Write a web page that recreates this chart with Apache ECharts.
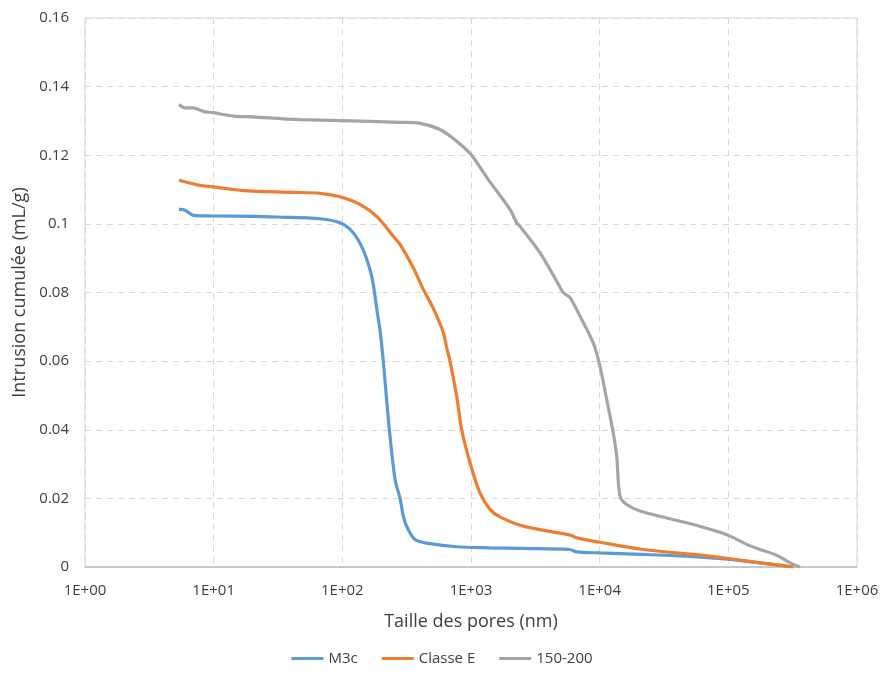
<!DOCTYPE html>
<html>
<head>
<meta charset="utf-8">
<script src="https://cdn.jsdelivr.net/npm/echarts@6/dist/echarts.min.js"></script>
<style>html,body{margin:0;padding:0;background:#fff;}#c{width:884px;height:680px;}</style>
</head>
<body>
<div id="c"></div>
<script>
var seriesNames = ['M3c', 'Classe E', '150-200'];
var xTickLabels = ['1E+00', '1E+01', '1E+02', '1E+03', '1E+04', '1E+05', '1E+06'];
var yTickLabels = ['0', '0.02', '0.04', '0.06', '0.08', '0.1', '0.12', '0.14', '0.16'];

var m3cX = [5.38, 5.99, 6.95, 9.93, 20.3, 31, 67, 95.9, 121, 145, 164, 173, 189, 196, 208, 232, 257, 281, 298, 316, 367, 480, 774, 1405, 2500, 5878, 6628, 10060, 20570, 29410, 53460, 103100, 176300, 320000];
var m3cY = [0.1042, 0.1040, 0.1025, 0.1023, 0.1022, 0.1020, 0.1015, 0.1003, 0.0975, 0.0925, 0.0867, 0.0829, 0.0730, 0.0692, 0.0600, 0.0400, 0.0255, 0.0200, 0.0148, 0.0119, 0.0080, 0.0068, 0.0059, 0.0056, 0.0054, 0.0051, 0.0044, 0.0041, 0.0037, 0.0035, 0.0030, 0.0022, 0.0012, 0.0];

var classeX = [5.38, 7.83, 9.93, 17.0, 41.6, 67, 95.9, 137, 185, 249, 281, 356, 426, 507, 610, 647, 687, 774, 847, 982, 1174, 1405, 1680, 2548, 5542, 6058, 6628, 10060, 21840, 63880, 103100, 176300, 320000];
var classeY = [0.1127, 0.1112, 0.1108, 0.1097, 0.1092, 0.1089, 0.1079, 0.1057, 0.1022, 0.0964, 0.0940, 0.0872, 0.0809, 0.0755, 0.0683, 0.0639, 0.0600, 0.0498, 0.0400, 0.0304, 0.0216, 0.0168, 0.0146, 0.0119, 0.0095, 0.0092, 0.0085, 0.0072, 0.0051, 0.0034, 0.0024, 0.0012, 0.0];

var grayX = [5.38, 5.99, 6.95, 8.30, 9.93, 14.2, 20.3, 34.8, 46.9, 95.9, 281, 402, 574, 774, 1000, 1363, 2010, 2265, 2403, 3436, 4634, 5214, 5878, 7032, 8918, 10060, 11340, 12770, 13560, 14390, 16230, 20570, 33190, 53460, 81220, 103100, 138900, 176300, 237600, 301300, 360600];
var grayY = [0.1348, 0.1338, 0.1338, 0.1328, 0.1324, 0.1314, 0.1312, 0.1306, 0.1304, 0.1301, 0.1296, 0.1293, 0.1275, 0.1241, 0.1202, 0.1129, 0.1042, 0.1003, 0.0993, 0.0916, 0.0833, 0.0800, 0.0785, 0.0731, 0.0653, 0.0585, 0.0488, 0.0390, 0.0323, 0.0206, 0.0182, 0.0163, 0.0143, 0.0124, 0.0104, 0.0090, 0.0066, 0.0051, 0.0034, 0.0012, 0.0];

function zip(xs, ys) { return xs.map(function (x, i) { return [x, ys[i]]; }); }

var colors = ['#5B9BD5', '#ED7D31', '#A5A5A5'];
var FONT = 'Open Sans';
var chart = echarts.init(document.getElementById('c'), null, { renderer: 'canvas' });

function mkSeries(name, data, color) {
  return {
    name: name, type: 'line', data: data, showSymbol: false, symbol: 'none',
    smooth: 0.3,
    lineStyle: { color: color, width: 3.2 }, itemStyle: { color: color }
  };
}

chart.setOption({
  animation: false,
  backgroundColor: '#fff',
  textStyle: { fontFamily: FONT },
  color: colors,
  grid: { left: 85, right: 27, top: 18, bottom: 113, show: true, borderColor: '#d9d9d9', borderWidth: 1 },
  legend: {
    bottom: 9, left: 'center', itemWidth: 32, itemHeight: 3, itemGap: 24,
    icon: 'rect',
    textStyle: { fontFamily: FONT, fontSize: 15, color: '#404040' },
    data: seriesNames
  },
  xAxis: {
    type: 'log', logBase: 10, min: 1, max: 1000000,
    name: 'Taille des pores (nm)', nameLocation: 'middle', nameGap: 46,
    nameTextStyle: { fontFamily: FONT, fontSize: 18, color: '#404040' },
    axisLine: { lineStyle: { color: '#bfbfbf', width: 1.5 } },
    axisTick: { show: false },
    minorTick: { show: false },
    axisLabel: {
      fontFamily: FONT, fontSize: 15, color: '#404040', margin: 16,
      formatter: function (v) { var e = Math.round(Math.log10(v)); return xTickLabels[e] || ''; }
    },
    splitLine: { show: true, lineStyle: { color: '#d9d9d9', type: [6, 5], width: 1 } }
  },
  yAxis: {
    type: 'value', min: 0, max: 0.16, interval: 0.02,
    name: 'Intrusion cumulée (mL/g)', nameLocation: 'middle', nameGap: 56,
    nameTextStyle: { fontFamily: FONT, fontSize: 18, color: '#404040' },
    axisLine: { show: false }, axisTick: { show: false },
    axisLabel: {
      fontFamily: FONT, fontSize: 15, color: '#404040', margin: 16,
      formatter: function (v) { var i = Math.round(v / 0.02); return yTickLabels[i]; }
    },
    splitLine: { show: true, lineStyle: { color: '#d9d9d9', type: [6, 5], width: 1 } }
  },
  series: [
    mkSeries(seriesNames[0], zip(m3cX, m3cY), colors[0]),
    mkSeries(seriesNames[1], zip(classeX, classeY), colors[1]),
    mkSeries(seriesNames[2], zip(grayX, grayY), colors[2])
  ]
});
</script>
</body>
</html>
